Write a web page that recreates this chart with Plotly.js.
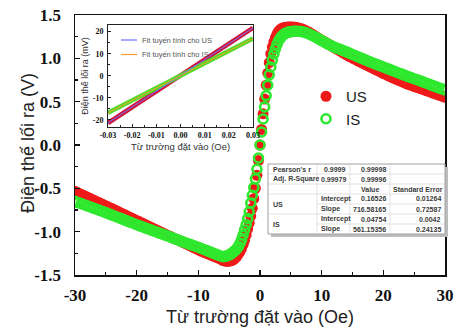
<!DOCTYPE html>
<html>
<head>
<meta charset="utf-8">
<script src="https://cdn.plot.ly/plotly-3.0.1.min.js"></script>
<style>html,body{margin:0;padding:0;background:#fff;}#chart{width:454px;height:327px;}</style>
</head>
<body>
<div id="chart"></div>
<script>
// ---- Main data: applied field (Oe) ----
const field = [
-30,-29.5,-29,-28.5,-28,-27.5,-27,-26.5,-26,-25.5,-25,-24.5,-24,-23.5,-23,-22.5,-22,-21.5,-21,-20.5,-20,
-19.5,-19,-18.5,-18,-17.5,-17,-16.5,-16,-15.5,-15,-14.5,-14,-13.5,-13,-12.5,-12,-11.5,-11,-10.5,-10,
-9.5,-9,-8.5,-8,-7.5,-7,-6.5,
-6,-5.75,-5.5,-5.25,-5,-4.75,-4.5,-4.25,-4,-3.75,-3.5,-3.25,-3,-2.75,-2.5,-2.25,-2,-1.75,-1.5,-1.25,-1,-0.75,-0.5,-0.25,
0,0.25,0.5,0.75,1,1.25,1.5,1.75,2,2.25,2.5,2.75,3,3.25,3.5,3.75,4,4.25,4.5,4.75,5,5.25,5.5,5.75,6,
6.5,7,7.5,8,8.5,9,9.5,10,10.5,11,11.5,12,12.5,13,13.5,14,14.5,15,15.5,16,16.5,17,17.5,18,18.5,19,19.5,20,
20.5,21,21.5,22,22.5,23,23.5,24,24.5,25,25.5,26,26.5,27,27.5,28,28.5,29,29.5,30
];
// Output voltage (V), US series
const usVolt = [
-0.535,-0.552,-0.568,-0.585,-0.601,-0.618,-0.634,-0.651,-0.667,-0.684,-0.700,-0.717,-0.734,-0.751,-0.768,-0.785,-0.802,-0.819,-0.836,-0.853,-0.870,
-0.887,-0.904,-0.921,-0.938,-0.955,-0.972,-0.989,-1.006,-1.023,-1.040,-1.057,-1.074,-1.091,-1.107,-1.124,-1.140,-1.158,-1.176,-1.193,-1.210,
-1.226,-1.241,-1.256,-1.270,-1.286,-1.300,-1.315,
-1.334,-1.338,-1.341,-1.342,-1.340,-1.337,-1.330,-1.320,-1.305,-1.285,-1.260,-1.230,-1.195,-1.150,-1.100,-1.040,-0.970,-0.900,-0.820,-0.730,-0.620,-0.500,-0.350,-0.180,
0.000,0.180,0.360,0.530,0.690,0.830,0.950,1.050,1.130,1.190,1.240,1.280,1.310,1.330,1.345,1.352,1.357,1.359,1.361,1.362,1.362,1.361,1.360,1.358,1.356,
1.347,1.335,1.318,1.300,1.278,1.255,1.232,1.210,1.190,1.170,1.148,1.125,1.104,1.083,1.061,1.040,1.021,1.002,0.984,0.965,0.948,0.930,0.913,0.895,0.878,0.860,0.843,0.825,
0.809,0.793,0.776,0.760,0.745,0.730,0.715,0.700,0.688,0.675,0.663,0.650,0.638,0.625,0.613,0.600,0.588,0.575,0.563,0.550
];
// Output voltage (V), IS series
const isVolt = [
-0.650,-0.663,-0.676,-0.689,-0.702,-0.715,-0.728,-0.741,-0.754,-0.767,-0.780,-0.794,-0.808,-0.822,-0.836,-0.850,-0.864,-0.878,-0.892,-0.906,-0.920,
-0.933,-0.946,-0.959,-0.972,-0.985,-0.998,-1.011,-1.024,-1.037,-1.050,-1.063,-1.077,-1.090,-1.103,-1.117,-1.130,-1.143,-1.155,-1.168,-1.180,
-1.194,-1.208,-1.222,-1.235,-1.250,-1.265,-1.278,
-1.288,-1.286,-1.282,-1.276,-1.268,-1.258,-1.245,-1.230,-1.215,-1.195,-1.170,-1.135,-1.095,-1.040,-0.980,-0.920,-0.850,-0.770,-0.670,-0.580,-0.490,-0.390,-0.280,-0.150,
0.000,0.150,0.300,0.440,0.570,0.690,0.810,0.900,0.980,1.050,1.110,1.160,1.200,1.230,1.255,1.270,1.285,1.293,1.300,1.305,1.308,1.310,1.312,1.313,1.313,
1.311,1.305,1.294,1.280,1.263,1.245,1.225,1.205,1.185,1.165,1.148,1.130,1.116,1.103,1.089,1.075,1.060,1.045,1.030,1.015,1.000,0.985,0.970,0.955,0.941,0.928,0.914,0.900,
0.886,0.873,0.859,0.845,0.831,0.818,0.804,0.790,0.778,0.765,0.753,0.740,0.726,0.713,0.699,0.685,0.673,0.660,0.648,0.635
];

// ---- Tick labels ----
const xTickVals = [-30,-20,-10,0,10,20,30];
const xTickText = ['-30','-20','-10','0','10','20','30'];
const yTickVals = [-1.5,-1.0,-0.5,0,0.5,1.0,1.5];
const yTickText = ['-1.5','-1.0','-0.5','0.0','0.5','1.0','1.5'];
const insetXTickVals = [-0.03,-0.02,-0.01,0,0.01,0.02,0.03];
const insetXTickText = ['-0.03','-0.02','-0.01','0.00','0.01','0.02','0.03'];
const insetYTickVals = [-20,-10,0,10,20];
const insetYTickText = ['-20','-10','0','10','20'];

// ---- Inset data (mV vs Oe) ----
const insetField = [-0.03,-0.02,-0.01,0,0.01,0.02,0.03];
const insetUS = [-21.4,-14.2,-7.0,0.2,7.3,14.5,21.7];
const insetIS = [-16.8,-11.2,-5.6,0.05,5.7,11.3,16.9];
const fitField = [-0.03,0.03];
const fitUS = [-21.33,21.66];
const fitIS = [-16.79,16.88];
const fitNames = ['Fit tuyến tính cho US', 'Fit tuyến tính cho IS'];

// ---- Fit statistics table ----
const tblCol1 = ["Pearson's r","Adj. R-Square","","US","","IS",""];
const tblCol2 = ["0.9999","0.99979","","Intercept","Slope","Intercept","Slope"];
const tblCol3 = ["0.99998","0.99996","Value","0.16526","716.58165","0.04754","561.15356"];
const tblCol4 = ["","","Standard Error","0.01264","0.72587","0.0042","0.24135"];

const W = 454, H = 327, ML = 75, MR = 9, MT = 15, MB = 52;
const PW = W - ML - MR, PH = H - MT - MB;
const px = x => (x - ML) / PW;
const py = y => (H - MB - y) / PH;

const RED = '#ee1a1a', GREEN = '#2ee82e';
const BLUE_FIT = '#7070ff', ORANGE_FIT = '#f0a030';
const serifBold = {family: 'Liberation Serif, Times New Roman, serif', weight: 'bold', color: '#111'};
const sans = 'Liberation Sans, Arial, sans-serif';

const traces = [
  {x: field, y: usVolt, type: 'scatter', mode: 'markers', name: 'US',
   marker: {symbol: 'circle', size: 11, color: RED}},
  {x: field, y: isVolt, type: 'scatter', mode: 'markers', name: 'IS',
   marker: {symbol: 'circle-open', size: 9, color: GREEN, line: {width: 2.6, color: GREEN}}},
  {x: insetField, y: insetUS, xaxis: 'x2', yaxis: 'y2', mode: 'lines', showlegend: false,
   line: {color: '#d0163a', width: 4.5}},
  {x: insetField, y: insetIS, xaxis: 'x2', yaxis: 'y2', mode: 'lines', showlegend: false,
   line: {color: '#52dc2a', width: 4.5}},
  {x: fitField, y: fitUS, xaxis: 'x2', yaxis: 'y2', mode: 'lines', name: fitNames[0], showlegend: false,
   line: {color: BLUE_FIT, width: 1}},
  {x: fitField, y: fitIS, xaxis: 'x2', yaxis: 'y2', mode: 'lines', name: fitNames[1], showlegend: false,
   line: {color: ORANGE_FIT, width: 1}}
];

const shapes = [];
const annotations = [];

// inset legend (drawn manually to match compact spacing)
[[BLUE_FIT, 40], [ORANGE_FIT, 54.5]].forEach((it, i) => {
  shapes.push({type: 'line', xref: 'paper', yref: 'paper', x0: px(121), x1: px(137), y0: py(it[1]), y1: py(it[1]),
    line: {color: it[0], width: 1.2}});
  annotations.push({text: fitNames[i], xref: 'paper', yref: 'paper', x: px(140), y: py(it[1]), xanchor: 'left',
    yanchor: 'middle', showarrow: false, font: {family: sans, size: 7.5, color: '#555'}});
});

// axis titles
annotations.push({text: 'Điện thế lối ra (V)', xref: 'paper', yref: 'paper', x: px(28), y: py(143),
  xanchor: 'center', yanchor: 'middle', textangle: -90, showarrow: false,
  font: {family: sans, size: 18, color: '#222'}});
annotations.push({text: 'Từ trường đặt vào (Oe)', xref: 'paper', yref: 'paper', x: px(180), y: py(146),
  xanchor: 'center', yanchor: 'middle', showarrow: false,
  font: {family: sans, size: 9.5, color: '#333'}});

// table geometry (pixels)
const colEdges = [268, 317, 350, 390, 445];
const rowTop = 164, rowH = 10, nRows = 7;
shapes.push({type: 'rect', xref: 'paper', yref: 'paper', x0: px(colEdges[0] + 3), x1: px(colEdges[4] + 3),
  y0: py(rowTop + rowH * nRows + 3), y1: py(rowTop + 3), fillcolor: '#bdbdbd', line: {width: 0}, layer: 'above'});
shapes.push({type: 'rect', xref: 'paper', yref: 'paper', x0: px(colEdges[0]), x1: px(colEdges[4]),
  y0: py(rowTop + rowH * nRows), y1: py(rowTop), fillcolor: '#ffffff', line: {width: 1, color: '#a0a0a0'}, layer: 'above'});
for (let r = 1; r < nRows; r++) {
  const yy = py(rowTop + r * rowH);
  let x0 = colEdges[0];
  if (r === 4 || r === 6) x0 = colEdges[1];
  shapes.push({type: 'line', xref: 'paper', yref: 'paper', x0: px(x0), x1: px(colEdges[4]), y0: yy, y1: yy,
    line: {width: 0.6, color: '#d0d0d0'}, layer: 'above'});
}
for (let c = 1; c < 4; c++) {
  shapes.push({type: 'line', xref: 'paper', yref: 'paper', x0: px(colEdges[c]), x1: px(colEdges[c]),
    y0: py(rowTop), y1: py(rowTop + rowH * nRows), line: {width: 0.6, color: '#d0d0d0'}, layer: 'above'});
}
const tFont = {family: sans, size: 7, color: '#3a3a3a', weight: 'bold'};
function cell(text, xPix, yPix, anchor) {
  if (!text) return;
  annotations.push({text: text, xref: 'paper', yref: 'paper', x: px(xPix), y: py(yPix), xanchor: anchor,
    yanchor: 'middle', showarrow: false, font: tFont});
}
for (let r = 0; r < nRows; r++) {
  const yc = rowTop + rowH * r + rowH / 2;
  if (r < 2) cell(tblCol1[r], colEdges[0] + 3, yc, 'left');
  else if (tblCol1[r]) cell(tblCol1[r], colEdges[0] + 3, yc + rowH / 2, 'left');
  if (r < 2) cell(tblCol2[r], colEdges[2] - 2, yc, 'right');
  else cell(tblCol2[r], colEdges[1] + 2, yc, 'left');
  if (r === 2) { cell(tblCol3[r], (colEdges[2] + colEdges[3]) / 2, yc, 'center'); cell(tblCol4[r], (colEdges[3] + colEdges[4]) / 2, yc, 'center'); }
  else { cell(tblCol3[r], colEdges[3] - 2, yc, 'right'); cell(tblCol4[r], colEdges[4] - 2, yc, 'right'); }
}

const layout = {
  width: W, height: H,
  margin: {l: ML, r: MR, t: MT, b: MB},
  paper_bgcolor: '#fff', plot_bgcolor: '#fff',
  showlegend: true,
  xaxis: {
    range: [-30, 30], domain: [0, 1], tickmode: 'array', tickvals: xTickVals, ticktext: xTickText,
    ticks: 'inside', ticklen: 5, tickwidth: 1.2, tickcolor: '#111', ticklabeloverflow: 'allow',
    minor: {dtick: 5, tick0: 0, ticks: 'inside', ticklen: 3, tickcolor: '#111', tickwidth: 1.2},
    showline: true, linecolor: '#111', linewidth: 1.5, mirror: true, showgrid: false, zeroline: false,
    tickfont: Object.assign({size: 17}, serifBold), ticklabelstandoff: 4,
    title: {text: 'Từ trường đặt vào (Oe)', font: {family: sans, size: 18, color: '#222'}, standoff: 6}
  },
  yaxis: {
    range: [-1.5, 1.5], domain: [0, 1], tickmode: 'array', tickvals: yTickVals, ticktext: yTickText,
    ticks: 'inside', ticklen: 5, tickwidth: 1.2, tickcolor: '#111',
    minor: {dtick: 0.25, tick0: 0, ticks: 'inside', ticklen: 3, tickcolor: '#111', tickwidth: 1.2},
    showline: true, linecolor: '#111', linewidth: 1.5, mirror: true, showgrid: false, zeroline: false,
    tickfont: Object.assign({size: 17}, serifBold), ticklabelstandoff: 9
  },
  xaxis2: {
    anchor: 'y2', domain: [px(108), px(253)], range: [-0.03, 0.03], tickmode: 'array',
    tickvals: insetXTickVals, ticktext: insetXTickText, ticklabeloverflow: 'allow',
    ticks: 'inside', ticklen: 3, tickcolor: '#222', showline: true, linecolor: '#222', linewidth: 1, mirror: true,
    showgrid: false, zeroline: false, tickfont: Object.assign({size: 8}, serifBold), ticklabelstandoff: 0,
    minor: {dtick: 0.005, tick0: 0, ticks: 'inside', ticklen: 2, tickcolor: '#222'}
  },
  yaxis2: {
    anchor: 'x2', domain: [py(127), py(25)], range: [-23.2, 23], tickmode: 'array',
    tickvals: insetYTickVals, ticktext: insetYTickText,
    ticks: 'inside', ticklen: 3, tickcolor: '#222', showline: true, linecolor: '#222', linewidth: 1, mirror: true,
    showgrid: false, zeroline: false, tickfont: Object.assign({size: 8}, serifBold), ticklabelstandoff: 2,
    minor: {dtick: 5, tick0: 0, ticks: 'inside', ticklen: 2, tickcolor: '#222'},
    title: {text: 'Điện thế lối ra (mV)', font: {family: sans, size: 9, color: '#333'}, standoff: 2}
  },
  legend: {
    x: px(306), y: py(80), xanchor: 'left', yanchor: 'top', bgcolor: 'rgba(0,0,0,0)',
    font: {family: sans, size: 15, color: '#222'}, itemsizing: 'trace'
  },
  shapes: shapes,
  annotations: annotations
};

Plotly.newPlot('chart', traces, layout, {staticPlot: true, displayModeBar: false});
</script>
</body>
</html>
